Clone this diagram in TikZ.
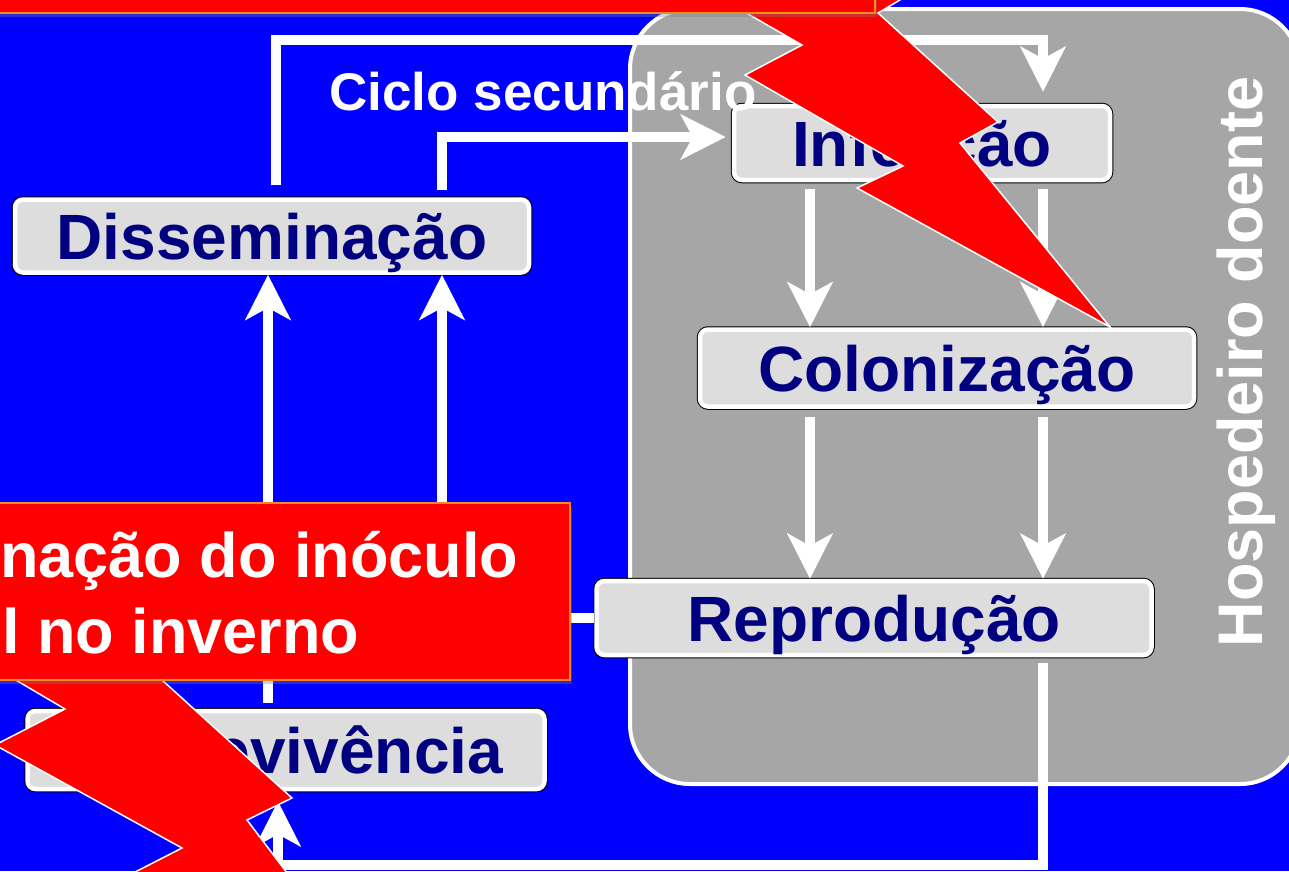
\documentclass[tikz,border=0pt]{standalone}
\usepackage{fontspec}
\setmainfont{Liberation Sans}
\usetikzlibrary{arrows.meta,calc,shadows}
\definecolor{slideblue}{RGB}{0,0,255}
\definecolor{hostgray}{RGB}{166,166,166}
\definecolor{boxgray}{RGB}{221,221,221}
\definecolor{navytext}{RGB}{0,0,128}
\definecolor{bannerred}{RGB}{255,0,0}
\definecolor{bannerline}{RGB}{240,140,40}
\def\BigBold{\fontsize{64}{70}\selectfont\bfseries}

\begin{document}
\begin{tikzpicture}[x=1pt, y=-1pt,
        stage/.style={fill=boxgray, draw=white, line width=4.5pt, rounded corners=8pt,
            preaction={draw=black, line width=6.5pt},
            font=\BigBold, text=navytext, text height=46pt, text depth=0pt,
            inner sep=0pt, minimum height=74pt},
        flow/.style={white, line width=10pt, -{Stealth[length=45pt, width=45pt, inset=12pt]}},
        bolt/.style={fill=bannerred, draw=white, line width=1.5pt},
        banner/.style={fill=bannerred, draw=bannerline, line width=1.5pt,
            drop shadow={opacity=0.35, shadow xshift=2pt, shadow yshift=-4pt}}]
        \useasboundingbox (0, 0) rectangle (1289, 871);
        \clip (0, 0) rectangle (1289, 871);
        \fill [slideblue] (0, 0) rectangle (1289, 871);

        % host plant
        \draw [fill=hostgray, draw=white, line width=4pt, rounded corners=60pt] (630, 9) rectangle (1300, 784);
        \node [rotate=90, anchor=base, white, inner sep=0pt, font=\fontsize{63}{70}\selectfont\bfseries] (host) at (1262, 362) {Hospedeiro doente};

        % stages
        \node [stage, minimum width=376pt] (infec) at (922, 143) {Infecção};
        \node [stage, minimum width=494pt, minimum height=77pt] (coloniz) at (947, 368) {Colonização};
        \node [stage, minimum width=555pt] (reprod) at (874, 618) {Reprodução};
        \node [stage, minimum width=514pt, minimum height=73pt] (dissem) at (272, 236) {Disseminação};
        \node [stage, minimum width=517pt, minimum height=78pt] (sobrev) at (286, 750) {Sobrevivência};

        % cycle
        \draw [flow] ($(dissem.north -| 276, 0) + (0, -12)$) |- ($(infec.north -| 1043, 0) + (0, -64)$) -- ($(infec.north -| 1043, 0) + (0, -12)$);
        \draw [flow] ($(dissem.north -| 442, 0) + (0, -7)$) |- ($(infec.west) + (-6, -6)$);
        \draw [flow] ($(infec.south -| 810, 0) + (0, 7)$) -- (coloniz.north -| 810, 0);
        \draw [flow] ($(infec.south -| 1043, 0) + (0, 7)$) -- (coloniz.north -| 1043, 0);
        \draw [flow] ($(coloniz.south -| 810, 0) + (0, 8)$) -- (reprod.north -| 810, 0);
        \draw [flow] ($(coloniz.south -| 1043, 0) + (0, 8)$) -- (reprod.north -| 1043, 0);
        \draw [flow] (reprod.west) -| (dissem.south -| 442, 0);
        \draw [flow] ($(sobrev.north -| 268, 0) + (0, -6)$) -- (dissem.south -| 268, 0);
        \draw [flow] ($(reprod.south -| 1043, 0) + (0, 6)$) |- ($(sobrev.south -| 278, 0) + (0, 74)$) -- ($(sobrev.south -| 278, 0) + (0, 10)$);

        \node [anchor=base, white, inner sep=0pt, font=\fontsize{53}{60}\selectfont\bfseries] (ciclo) at (543, 110) {Ciclo secundário};

        % upper lightning
        \draw [bolt] (715, -5) -- (802, 45) -- (745, 75) -- (903, 166) -- (857, 188) -- (1110, 327)
            -- (960, 143) -- (998, 122) -- (878, 13) -- (920, -12) -- cycle;
        \draw [banner] (-10, -10) rectangle (875, 13);

        % lower lightning
        \draw [bolt] (-20, 659) -- (65, 709) -- (-5, 745) -- (182, 848) -- (100, 890)
            -- (300, 890) -- (247, 820) -- (292, 798) -- (140, 660) -- cycle;
        \draw [banner] (-10, 503) rectangle (570, 680);
        \node [anchor=base west, white, inner sep=0pt, font=\fontsize{63}{70}\selectfont\bfseries] (elimtop) at (0, 577) {nação do inóculo};
        \node [anchor=base west, white, inner sep=0pt, font=\fontsize{63}{70}\selectfont\bfseries] (elimbot) at (2, 653) {l no inverno};
    \end{tikzpicture}
\end{document}
